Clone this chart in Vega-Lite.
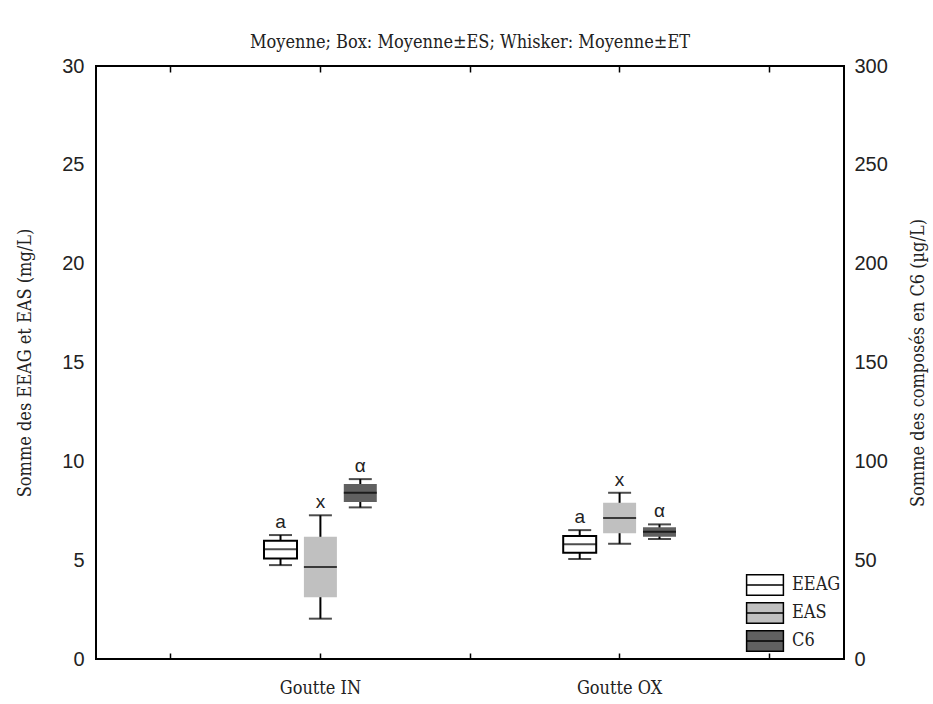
{
  "$schema": "https://vega.github.io/schema/vega-lite/v6.json",
  "autosize": {"type": "none"},
  "padding": {"left": 96, "top": 66, "right": 89, "bottom": 45},
  "width": 748,
  "height": 593,
  "background": "white",
  "title": {"text": "Moyenne; Box: Moyenne±ES; Whisker: Moyenne±ET", "font": "DejaVu Serif Condensed", "fontSize": 18, "fontWeight": "normal", "color": "#222", "offset": 4},
  "config": {
    "view": {"stroke": "black", "strokeWidth": 2},
    "axis": {"domain": false, "grid": false, "labelColor": "#222", "titleColor": "#222"},
    "legend": {"labelFont": "DejaVu Serif Condensed", "labelFontSize": 18, "labelColor": "#222"}
  },
  "datasets": {
    "mg": [
      {"groupe": "Goutte IN", "serie": "EEAG", "moy": 5.55, "es_lo": 5.09, "es_hi": 5.98, "et_lo": 4.75, "et_hi": 6.27, "lettre": "a"},
      {"groupe": "Goutte IN", "serie": "EAS", "moy": 4.65, "es_lo": 3.12, "es_hi": 6.19, "et_lo": 2.04, "et_hi": 7.27, "lettre": "x"},
      {"groupe": "Goutte OX", "serie": "EEAG", "moy": 5.80, "es_lo": 5.38, "es_hi": 6.22, "et_lo": 5.06, "et_hi": 6.52, "lettre": "a"},
      {"groupe": "Goutte OX", "serie": "EAS", "moy": 7.13, "es_lo": 6.36, "es_hi": 7.91, "et_lo": 5.83, "et_hi": 8.41, "lettre": "x"}
    ],
    "ug": [
      {"groupe": "Goutte IN", "serie": "C6", "moy": 84.1, "es_lo": 79.4, "es_hi": 88.5, "et_lo": 76.7, "et_hi": 91.0, "lettre": "α"},
      {"groupe": "Goutte OX", "serie": "C6", "moy": 64.4, "es_lo": 61.9, "es_hi": 66.6, "et_lo": 60.7, "et_hi": 68.1, "lettre": "α"}
    ]
  },
  "resolve": {"scale": {"y": "independent"}, "axis": {"x": "independent", "y": "independent"}},
  "layer": [
    {
      "data": {"name": "mg"},
      "encoding": {
        "x": {"field": "groupe", "type": "nominal",
          "scale": {"domain": ["t1", "Goutte IN", "t2", "Goutte OX", "t3"], "paddingInner": 0, "paddingOuter": 0},
          "axis": {"orient": "bottom", "title": null, "labelAngle": 0, "labelExpr": "indexof(['Goutte IN','Goutte OX'], datum.value) >= 0 ? datum.value : ''", "labelFont": "DejaVu Serif Condensed", "labelFontSize": 18, "tickSize": -6, "tickWidth": 1.5, "tickColor": "black", "labelPadding": 26}},
        "xOffset": {"field": "serie", "type": "nominal", "scale": {"domain": ["EEAG", "EAS", "C6"], "paddingInner": 0, "paddingOuter": 0.375}}
      },
      "layer": [
        {"mark": {"type": "rule", "color": "black", "strokeWidth": 2},
          "encoding": {"y": {"field": "et_lo", "type": "quantitative", "scale": {"domain": [0, 30], "nice": false},
            "axis": {"orient": "left", "values": [0, 5, 10, 15, 20, 25, 30], "ticks": false, "labelFont": "Liberation Sans", "labelFontSize": 20, "labelPadding": 12, "title": "Somme des EEAG et EAS (mg/L)", "titleFont": "DejaVu Serif Condensed", "titleFontSize": 18, "titleFontWeight": "normal", "titlePadding": 27}},
            "y2": {"field": "et_hi"}}},
        {"mark": {"type": "tick", "color": "black", "size": 23, "thickness": 2}, "encoding": {"y": {"field": "et_hi", "type": "quantitative"}}},
        {"mark": {"type": "tick", "color": "black", "size": 23, "thickness": 2}, "encoding": {"y": {"field": "et_lo", "type": "quantitative"}}},
        {"mark": {"type": "bar", "width": 33},
          "encoding": {"y": {"field": "es_lo", "type": "quantitative"}, "y2": {"field": "es_hi"},
            "fill": {"field": "serie", "type": "nominal", "title": null,
              "scale": {"domain": ["EEAG", "EAS", "C6"], "range": ["#ffffff", "#c0c0c0", "#606060"]},
              "legend": {"orient": "none", "legendX": 656.5, "legendY": 506.5, "symbolType": "M-1.6,-0.9H1.6V0.9H-1.6Z M-1.6,0H1.6", "symbolSize": 529, "symbolStrokeColor": "black", "symbolStrokeWidth": 1.5, "symbolOpacity": 1, "rowPadding": 1, "labelOffset": 14.5}},
            "stroke": {"condition": {"test": "datum.serie === 'EEAG'", "value": "black"}, "value": null},
            "strokeWidth": {"value": 2}}},
        {"mark": {"type": "tick", "color": "black", "size": 33, "thickness": 2}, "encoding": {"y": {"field": "moy", "type": "quantitative"}}},
        {"mark": {"type": "text", "dy": -13, "font": "Liberation Sans", "fontSize": 19, "color": "#222", "baseline": "middle"},
          "encoding": {"y": {"field": "et_hi", "type": "quantitative"}, "text": {"field": "lettre"}}}
      ]
    },
    {
      "data": {"name": "ug"},
      "encoding": {
        "x": {"field": "groupe", "type": "nominal",
          "scale": {"domain": ["t1", "Goutte IN", "t2", "Goutte OX", "t3"], "paddingInner": 0, "paddingOuter": 0},
          "axis": {"orient": "top", "title": null, "labels": false, "tickSize": -6, "tickWidth": 1.5, "tickColor": "black"}},
        "xOffset": {"field": "serie", "type": "nominal", "scale": {"domain": ["EEAG", "EAS", "C6"], "paddingInner": 0, "paddingOuter": 0.375}}
      },
      "layer": [
        {"mark": {"type": "rule", "color": "black", "strokeWidth": 2},
          "encoding": {"y": {"field": "et_lo", "type": "quantitative", "scale": {"domain": [0, 300], "nice": false},
            "axis": {"orient": "right", "values": [0, 50, 100, 150, 200, 250, 300], "ticks": false, "labelFont": "Liberation Sans", "labelFontSize": 20, "labelPadding": 10, "title": "Somme des composés en C6 (µg/L)", "titleFont": "DejaVu Serif Condensed", "titleFontSize": 18, "titleFontWeight": "normal", "titleAngle": 270, "titlePadding": 40}},
            "y2": {"field": "et_hi"}}},
        {"mark": {"type": "tick", "color": "black", "size": 23, "thickness": 2}, "encoding": {"y": {"field": "et_hi", "type": "quantitative"}}},
        {"mark": {"type": "tick", "color": "black", "size": 23, "thickness": 2}, "encoding": {"y": {"field": "et_lo", "type": "quantitative"}}},
        {"mark": {"type": "bar", "width": 33},
          "encoding": {"y": {"field": "es_lo", "type": "quantitative"}, "y2": {"field": "es_hi"},
            "fill": {"field": "serie", "type": "nominal", "title": null}}},
        {"mark": {"type": "tick", "color": "black", "size": 33, "thickness": 2}, "encoding": {"y": {"field": "moy", "type": "quantitative"}}},
        {"mark": {"type": "text", "dy": -13, "font": "Liberation Sans", "fontSize": 19, "color": "#222", "baseline": "middle"},
          "encoding": {"y": {"field": "et_hi", "type": "quantitative"}, "text": {"field": "lettre"}}}
      ]
    }
  ]
}
